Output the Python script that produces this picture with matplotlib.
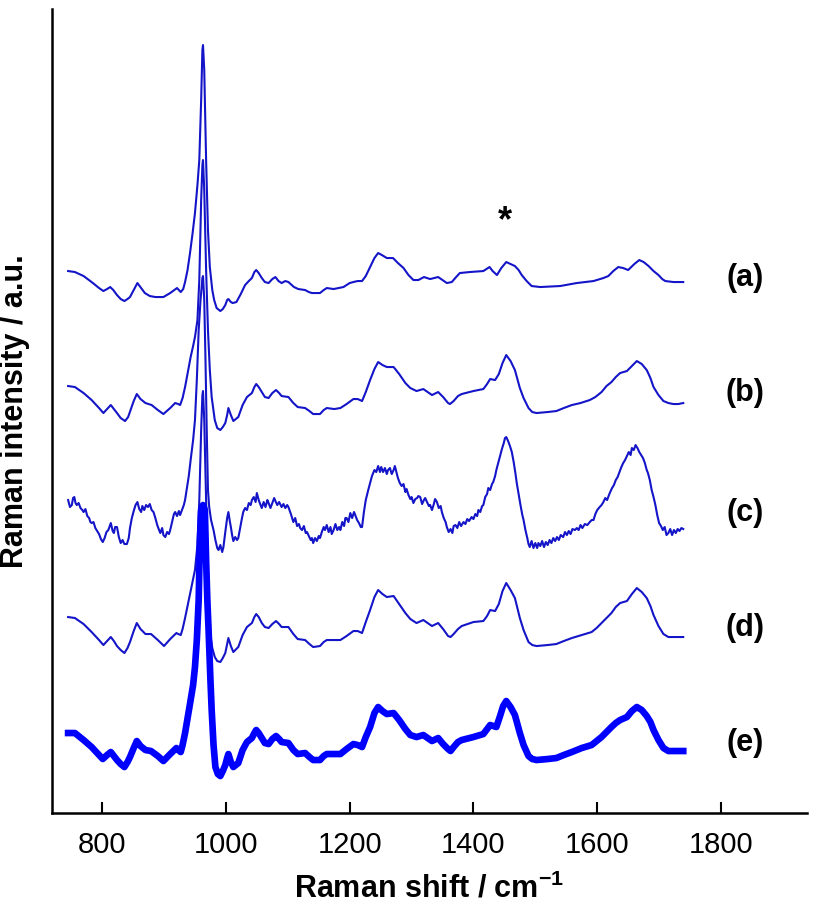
import matplotlib
matplotlib.use('Agg')
import matplotlib.pyplot as plt

plt.rcParams['font.family'] = ['Liberation Sans', 'DejaVu Sans']
plt.rcParams['mathtext.fontset'] = 'custom'
plt.rcParams['mathtext.bf'] = 'Liberation Sans:bold'
plt.rcParams['mathtext.rm'] = 'Liberation Sans:bold'

# spectra: shift (cm-1) and intensity (a.u.)
shift_a = [745, 756, 770, 783, 795, 802, 808, 813, 818, 824, 830, 836, 841, 845, 851, 857, 863, 869, 877, 886,
           899, 910, 921, 927, 931, 934, 938, 942, 946, 950, 954, 957, 960, 962, 963, 965, 968, 971, 974, 978,
           981, 985, 991, 995, 999, 1002, 1004, 1008, 1011, 1017, 1024, 1031, 1037, 1042, 1046, 1049, 1053, 1058,
           1063, 1069, 1075, 1080, 1085, 1090, 1096, 1101, 1110, 1117, 1128, 1134, 1139, 1152, 1158, 1163, 1174,
           1182, 1190, 1200, 1206, 1213, 1220, 1226, 1233, 1240, 1246, 1252, 1260, 1270, 1278, 1287, 1295, 1303,
           1311, 1320, 1330, 1343, 1350, 1357, 1365, 1372, 1378, 1394, 1416, 1426, 1431, 1438, 1445, 1453, 1460,
           1467, 1473, 1478, 1486, 1494, 1508, 1540, 1567, 1594, 1610, 1618, 1626, 1634, 1642, 1650, 1660, 1668,
           1675, 1683, 1691, 1699, 1705, 1710, 1723, 1739]
int_a = [52, 51, 47, 41, 35, 32, 34, 36, 33, 28, 24, 22, 24, 26, 33, 40, 35, 30, 27, 26,
         26, 30, 35, 31, 34, 41, 53, 70, 89, 110, 138, 163, 223, 273, 278, 253, 163, 93, 56, 33,
         23, 15, 12, 14, 18, 23, 24, 21, 20, 21, 29, 38, 42, 45, 51, 53, 50, 45,
         41, 40, 44, 46, 42, 40, 42, 41, 36, 34, 33, 31, 30, 30, 33, 35, 34,
         35, 36, 40, 41, 42, 42, 47, 56, 65, 70, 68, 65, 65, 60, 55, 48, 43,
         43, 46, 44, 46, 43, 40, 41, 46, 50, 51, 52, 56, 52, 48, 55, 61, 59,
         57, 53, 48, 42, 37, 36, 37, 40, 42, 45, 47, 52, 56, 55, 53, 59, 63,
         61, 57, 52, 48, 44, 42, 41, 41]

shift_b = [745, 756, 770, 783, 795, 802, 808, 814, 819, 824, 830, 837, 842, 846, 851, 856, 862, 870, 880, 890,
           899, 910, 918, 923, 926, 930, 934, 939, 943, 947, 950, 954, 957, 960, 962, 963, 965, 968, 971, 974,
           977, 982, 986, 991, 995, 999, 1002, 1004, 1008, 1012, 1020, 1027, 1034, 1042, 1046, 1049, 1053, 1058,
           1063, 1069, 1075, 1081, 1086, 1090, 1101, 1109, 1116, 1128, 1135, 1141, 1152, 1158, 1163, 1175, 1185,
           1195, 1206, 1213, 1220, 1226, 1233, 1240, 1246, 1253, 1260, 1271, 1280, 1290, 1298, 1308, 1319, 1326,
           1333, 1343, 1351, 1359, 1362, 1368, 1375, 1381, 1400, 1416, 1422, 1427, 1435, 1441, 1447, 1453, 1460,
           1467, 1471, 1475, 1481, 1489, 1495, 1502, 1520, 1534, 1546, 1559, 1573, 1588, 1597, 1607, 1615, 1623,
           1630, 1637, 1648, 1656, 1664, 1672, 1680, 1686, 1691, 1699, 1707, 1715, 1723, 1731, 1739]
int_b = [52, 51, 45, 38, 30, 25, 29, 33, 29, 25, 20, 17, 21, 28, 37, 44, 39, 35, 33, 28,
         24, 30, 35, 34, 33, 40, 51, 68, 81, 92, 101, 118, 158, 238, 273, 278, 248, 168, 108, 68,
         41, 18, 10, 8, 11, 15, 23, 30, 23, 17, 21, 33, 41, 45, 51, 54, 51, 46,
         41, 40, 45, 48, 45, 42, 41, 35, 31, 30, 27, 24, 24, 28, 30, 29, 30,
         34, 39, 39, 37, 46, 58, 69, 76, 73, 71, 71, 64, 55, 50, 47, 49, 46,
         43, 46, 41, 35, 34, 37, 42, 44, 47, 49, 54, 59, 58, 64, 75, 83, 77,
         68, 59, 50, 40, 30, 26, 25, 26, 27, 30, 33, 35, 38, 41, 46, 52, 56,
         61, 65, 67, 72, 77, 74, 68, 60, 51, 43, 37, 35, 34, 34, 35]

shift_c = [745, 748, 751, 753, 755, 757, 759, 762, 765, 768, 770, 773, 776, 779, 781, 783, 786, 789, 792, 795,
           798, 801, 804, 807, 810, 814, 817, 819, 821, 824, 827, 830, 833, 836, 840, 843, 845, 848, 851, 854,
           857, 860, 863, 865, 868, 871, 874, 877, 880, 883, 886, 889, 892, 894, 897, 899, 902, 905, 908, 910,
           913, 916, 918, 921, 924, 926, 929, 932, 934, 937, 940, 943, 947, 950, 953, 956, 959, 962, 963, 965,
           967, 969, 971, 973, 976, 980, 983, 986, 988, 991, 994, 996, 999, 1002, 1004, 1006, 1008, 1010, 1012,
           1015, 1018, 1020, 1023, 1026, 1028, 1031, 1034, 1037, 1040, 1042, 1045, 1048, 1050, 1053, 1056, 1058,
           1061, 1064, 1067, 1069, 1072, 1075, 1078, 1080, 1083, 1086, 1090, 1093, 1096, 1099, 1101, 1105, 1109,
           1112, 1115, 1118, 1120, 1123, 1126, 1129, 1131, 1134, 1137, 1139, 1141, 1144, 1147, 1150, 1152, 1155,
           1158, 1160, 1163, 1166, 1169, 1171, 1174, 1177, 1180, 1183, 1185, 1188, 1191, 1193, 1195, 1198, 1201,
           1204, 1207, 1209, 1212, 1215, 1218, 1220, 1223, 1226, 1230, 1233, 1236, 1240, 1243, 1246, 1249, 1251,
           1254, 1257, 1260, 1262, 1265, 1268, 1271, 1273, 1276, 1278, 1281, 1284, 1287, 1290, 1292, 1295, 1298,
           1300, 1303, 1306, 1309, 1311, 1314, 1317, 1320, 1322, 1325, 1328, 1330, 1333, 1336, 1338, 1341, 1344,
           1347, 1349, 1352, 1355, 1357, 1360, 1363, 1366, 1368, 1371, 1374, 1377, 1380, 1384, 1387, 1390, 1393,
           1397, 1400, 1403, 1406, 1408, 1411, 1414, 1416, 1419, 1422, 1424, 1427, 1430, 1432, 1435, 1437, 1440,
           1443, 1446, 1449, 1451, 1453, 1456, 1459, 1462, 1465, 1468, 1470, 1473, 1476, 1479, 1481, 1484, 1487,
           1489, 1491, 1494, 1497, 1500, 1503, 1505, 1508, 1511, 1514, 1517, 1520, 1523, 1526, 1529, 1532, 1535,
           1538, 1541, 1545, 1548, 1551, 1554, 1557, 1560, 1564, 1567, 1570, 1573, 1576, 1580, 1584, 1588, 1591,
           1594, 1597, 1600, 1604, 1607, 1610, 1613, 1616, 1619, 1621, 1624, 1627, 1630, 1633, 1636, 1639, 1642,
           1645, 1648, 1651, 1654, 1656, 1659, 1662, 1665, 1668, 1671, 1674, 1677, 1680, 1682, 1685, 1688, 1691,
           1694, 1697, 1700, 1703, 1706, 1709, 1712, 1715, 1718, 1721, 1724, 1727, 1730, 1733, 1736, 1739]
int_c = [58, 51, 53, 60, 61, 55, 53, 55, 50, 48, 46, 49, 42, 40, 36, 35, 36, 30, 27, 24,
         19, 16, 20, 26, 28, 35, 27, 25, 31, 31, 21, 15, 18, 14, 14, 20, 30, 40, 47, 53,
         56, 49, 46, 52, 48, 53, 51, 54, 48, 46, 40, 33, 28, 25, 30, 23, 21, 26, 24, 28,
         36, 44, 46, 42, 47, 43, 48, 53, 58, 70, 82, 98, 118, 138, 178, 228, 258, 280, 282, 258,
         198, 128, 68, 51, 38, 28, 18, 10, 8, 13, 6, 11, 26, 40, 46, 38, 31, 23, 17,
         21, 18, 20, 30, 40, 46, 50, 48, 55, 53, 58, 61, 56, 65, 58, 53, 50,
         56, 51, 58, 55, 50, 55, 60, 57, 53, 56, 51, 54, 50, 53, 51, 44, 36,
         40, 32, 34, 30, 28, 32, 25, 26, 22, 18, 20, 15, 20, 17, 22, 20, 26,
         31, 28, 33, 26, 31, 24, 28, 34, 28, 31, 28, 36, 32, 40, 40, 36, 45,
         40, 46, 43, 38, 35, 31, 31, 46, 58, 68, 75, 82, 88, 86, 92, 86, 91,
         86, 90, 84, 88, 90, 84, 88, 92, 85, 80, 75, 72, 74, 66, 69, 63, 59,
         61, 55, 59, 60, 62, 61, 54, 58, 60, 56, 52, 53, 48, 54, 59, 56, 50,
         52, 46, 40, 36, 31, 26, 29, 25, 32, 33, 30, 36, 32, 36, 34, 39, 37,
         41, 39, 44, 42, 48, 46, 52, 53, 61, 64, 70, 68, 74, 76, 82, 88, 95,
         102, 109, 115, 120, 121, 117, 112, 106, 96, 84, 75, 64, 53, 43, 38, 28, 20,
         14, 11, 17, 10, 15, 10, 15, 12, 17, 11, 16, 13, 18, 15, 20, 17, 21,
         18, 23, 21, 26, 23, 27, 24, 29, 28, 30, 28, 33, 30, 34, 33, 36, 38,
         38, 44, 48, 51, 53, 56, 60, 58, 63, 66, 70, 73, 78, 81, 86, 91, 95,
         98, 102, 106, 103, 110, 108, 113, 110, 106, 103, 100, 95, 88, 85, 78, 68, 61,
         53, 43, 35, 32, 28, 31, 23, 25, 29, 23, 28, 25, 29, 27, 30, 29]

shift_d = [745, 756, 770, 783, 795, 802, 808, 814, 819, 824, 830, 836, 841, 845, 851, 856, 862, 870, 879, 890,
           900, 910, 920, 923, 927, 930, 934, 940, 945, 950, 954, 957, 960, 962, 963, 965, 968, 971, 974, 978,
           982, 986, 991, 995, 999, 1002, 1004, 1008, 1012, 1020, 1027, 1034, 1042, 1046, 1049, 1053, 1058, 1063,
           1069, 1075, 1081, 1086, 1090, 1101, 1109, 1116, 1128, 1135, 1141, 1152, 1158, 1163, 1175, 1185, 1195,
           1206, 1213, 1220, 1226, 1233, 1240, 1246, 1253, 1260, 1271, 1280, 1290, 1298, 1308, 1319, 1326, 1333,
           1343, 1351, 1359, 1363, 1368, 1375, 1381, 1400, 1416, 1422, 1427, 1435, 1441, 1447, 1453, 1460, 1467,
           1471, 1475, 1481, 1489, 1495, 1502, 1520, 1534, 1546, 1559, 1575, 1591, 1599, 1607, 1615, 1623, 1630,
           1637, 1648, 1656, 1664, 1672, 1680, 1686, 1691, 1699, 1707, 1715, 1723, 1731, 1739]
int_d = [56, 55, 49, 41, 33, 28, 32, 36, 32, 27, 23, 20, 25, 31, 42, 50, 44, 39, 39, 33,
         27, 34, 40, 39, 38, 44, 55, 73, 88, 103, 128, 173, 243, 278, 282, 253, 173, 93, 43, 25,
         16, 12, 11, 15, 20, 29, 35, 27, 21, 26, 38, 46, 50, 56, 59, 56, 50, 46,
         45, 49, 52, 49, 46, 46, 39, 34, 33, 29, 26, 27, 31, 33, 33, 33, 37,
         42, 42, 40, 51, 63, 76, 83, 79, 76, 77, 69, 60, 54, 50, 53, 50, 47,
         50, 44, 37, 36, 39, 44, 47, 51, 52, 57, 63, 62, 69, 82, 90, 83, 75,
         65, 55, 43, 31, 28, 27, 28, 29, 32, 35, 38, 41, 45, 50, 55, 60, 66,
         70, 72, 79, 85, 81, 75, 67, 58, 47, 39, 36, 36, 36, 36]

shift_e = [745, 756, 770, 783, 795, 801, 808, 814, 819, 824, 830, 836, 841, 845, 851, 856, 862, 870, 879, 890,
           899, 910, 920, 923, 927, 930, 934, 939, 943, 947, 950, 953, 956, 958, 960, 963, 966, 968, 970, 972,
           975, 977, 980, 983, 987, 991, 995, 999, 1002, 1004, 1008, 1012, 1020, 1027, 1034, 1042, 1046, 1049,
           1053, 1058, 1063, 1069, 1075, 1081, 1086, 1090, 1101, 1109, 1116, 1128, 1135, 1141, 1152, 1158, 1163,
           1175, 1185, 1195, 1206, 1213, 1220, 1226, 1233, 1240, 1246, 1253, 1260, 1271, 1280, 1290, 1298, 1308,
           1319, 1326, 1333, 1343, 1351, 1359, 1363, 1368, 1375, 1381, 1400, 1416, 1422, 1427, 1437, 1443, 1448,
           1453, 1460, 1467, 1471, 1475, 1481, 1489, 1495, 1502, 1520, 1534, 1546, 1559, 1575, 1591, 1599, 1607,
           1615, 1623, 1630, 1637, 1648, 1656, 1664, 1672, 1680, 1686, 1691, 1699, 1707, 1715, 1723, 1731, 1739]
int_e = [55, 55, 48, 41, 33, 29, 33, 36, 32, 28, 24, 21, 26, 31, 40, 47, 42, 38, 37, 32,
         27, 34, 40, 38, 36, 43, 55, 73, 88, 103, 121, 148, 188, 248, 278, 283, 278, 228, 188, 158,
         108, 78, 43, 21, 14, 12, 17, 23, 30, 34, 26, 21, 25, 38, 46, 50, 55, 58,
         55, 50, 45, 44, 49, 52, 49, 46, 45, 38, 34, 35, 31, 28, 28, 32, 34,
         34, 34, 39, 44, 43, 41, 51, 61, 75, 81, 77, 74, 75, 68, 59, 53, 51,
         53, 50, 47, 50, 44, 39, 37, 41, 46, 48, 51, 54, 59, 63, 61, 72, 82,
         87, 81, 73, 64, 55, 43, 32, 29, 28, 29, 30, 33, 36, 40, 43, 47, 51,
         56, 61, 65, 68, 71, 77, 81, 78, 72, 66, 58, 48, 40, 37, 37, 37, 37]

offsets = [490, 375, 255, 140, 25]
labels = ['(a)', '(b)', '(c)', '(d)', '(e)']

fig = plt.figure(figsize=(8.14, 9.13), dpi=100)
ax = fig.add_axes([0.0639, 0.1095, 0.9275, 0.8806])

spectra = [(shift_a, int_a), (shift_b, int_b), (shift_c, int_c), (shift_d, int_d), (shift_e, int_e)]
for i, (xs, ys) in enumerate(spectra):
    thick = (i == 4)
    ax.plot(xs, [v + offsets[i] for v in ys],
            color='#0000ff' if thick else '#1414c8',
            lw=4.8 if thick else 1.5, solid_joinstyle='round')
    ax.text(1839, offsets[i] + 45, labels[i], fontsize=22, fontweight='bold',
            ha='center', va='center')

# marker above the 1450 band
ax.text(1451, 591, '*', fontsize=26, fontweight='bold', ha='center', va='center')

ax.set_xlim(719, 1939)
ax.set_ylim(0, 804)
ax.set_xticks([800, 1000, 1200, 1400, 1600, 1800])
ax.set_yticks([])
ax.tick_params(axis='x', direction='in', length=8, width=1.5, labelsize=21, pad=13)
for s in ['top', 'right']:
    ax.spines[s].set_visible(False)
for s in ['left', 'bottom']:
    ax.spines[s].set_linewidth(1.8)

ax.set_xlabel(r'Raman shift / cm$^{\mathbf{-1}}$', fontsize=22, fontweight='bold', labelpad=10)
ax.set_ylabel('Raman intensity / a.u.', fontsize=22, fontweight='bold', labelpad=16)

plt.savefig('out.png', dpi=100)
